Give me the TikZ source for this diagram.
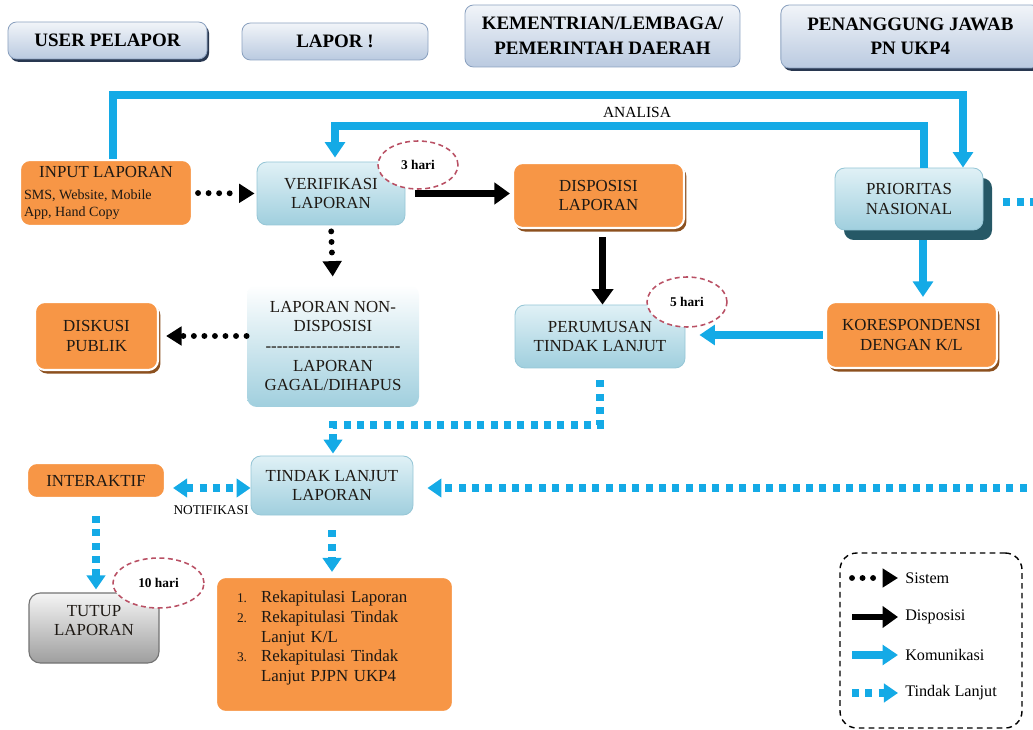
\documentclass[tikz,border=0pt]{standalone}
\usepackage{fontspec}
\setmainfont{Liberation Serif}
\usepackage{tikz}
\usetikzlibrary{arrows.meta,shadows,shapes.geometric}

\definecolor{lpOrange}{RGB}{247,150,70}
\definecolor{lpBrown}{RGB}{140,80,30}
\definecolor{lpBlue}{RGB}{20,170,230}
\definecolor{lpIce}{RGB}{224,241,246}
\definecolor{lpIceDark}{RGB}{160,207,222}
\definecolor{lpIceLine}{RGB}{150,198,214}
\definecolor{lpHead}{RGB}{186,202,224}
\definecolor{lpHeadLine}{RGB}{140,162,192}
\definecolor{lpNavy}{RGB}{40,55,80}
\definecolor{lpTeal}{RGB}{38,88,102}
\definecolor{lpRose}{RGB}{185,80,100}
\definecolor{lpInk}{RGB}{30,25,20}

\newcommand{\hy}{-\kern0pt}
\newcommand{\hyrow}{\hy\hy\hy\hy\hy\hy\hy\hy\hy\hy\hy\hy\hy\hy\hy\hy\hy\hy\hy\hy\hy\hy\hy\hy}
\newcommand{\numsz}{\fontsize{9.5}{11}\selectfont}

\tikzset{
  hdbox/.style={draw=lpHeadLine, line width=0.6pt, rounded corners=6pt,
    top color=white!80!lpHead, bottom color=lpHead, inner sep=0pt,
    align=center, font=\fontsize{13.5}{17.5}\selectfont\bfseries},
  hdshadow/.style={hdbox, drop shadow={shadow xshift=0.05cm,
    shadow yshift=-0.07cm, fill=lpNavy, opacity=1}},
  icebox/.style={draw=lpIceLine, line width=0.6pt, rounded corners=7pt,
    top color=lpIce, bottom color=lpIceDark, inner sep=0pt, align=center,
    font=\fontsize{12}{14}\selectfont, text=lpInk},
  orbox/.style={fill=lpOrange, draw=white, line width=1.5pt,
    rounded corners=7pt, inner sep=0pt, align=center,
    font=\fontsize{12}{14}\selectfont, text=lpInk},
  orshadow/.style={orbox, drop shadow={shadow xshift=0.06cm,
    shadow yshift=-0.09cm, fill=lpBrown, opacity=1}},
  graybox/.style={draw=black!55, line width=0.8pt, rounded corners=8pt,
    top color=white!96!black, bottom color=black!38, inner sep=0pt,
    align=center, font=\fontsize{12}{14}\selectfont, text=lpInk},
  harinote/.style={ellipse, draw=lpRose, line width=1.1pt,
    dash pattern=on 3.5pt off 2.5pt, fill=white, inner sep=0pt,
    font=\fontsize{9.5}{11}\selectfont\bfseries},
  sisarrow/.style={line width=4.2pt, line cap=round,
    dash pattern=on 0pt off 7.5pt, -{Triangle[width=13pt,length=11pt]}},
  disparrow/.style={line width=4.5pt, -{Triangle[width=15pt,length=11pt]}},
  komarrow/.style={lpBlue, line width=5pt, -{Triangle[width=14pt,length=11pt]}},
  tlline/.style={lpBlue, line width=5pt, dash pattern=on 5pt off 4.5pt},
  tlarrow/.style={tlline, -{Triangle[width=13pt,length=10pt]}},
  legtext/.style={anchor=west, inner sep=0pt, font=\fontsize{11.5}{13}\selectfont}
}

\begin{document}
\begin{tikzpicture}
\useasboundingbox (0,0) rectangle (25.825,-18.25);
\clip (0,0) rectangle (25.825,-18.25);

\node[hdshadow, minimum width=4.975cm, minimum height=0.925cm] (user) at (2.6875,-1.0125) {USER PELAPOR};
\node[hdbox, minimum width=4.65cm, minimum height=0.925cm] (lapor) at (8.375,-1.0375) {LAPOR !};
\node[hdbox, minimum width=6.875cm, minimum height=1.55cm] (kl) at (15.0625,-0.9) {KEMENTRIAN/LEMBAGA/\\PEMERINTAH DAERAH};
\node[hdshadow, minimum width=6.475cm, minimum height=1.575cm] (pj) at (22.76,-0.9125) {PENANGGUNG JAWAB\\PN UKP4};

\node[orbox, minimum width=4.3cm, minimum height=1.65cm] (input) at (2.65,-4.825) {\begin{tabular}{@{}l@{}}
\makebox[4.1cm]{INPUT LAPORAN}\\[2pt]
{\fontsize{10}{11.5}\selectfont SMS, Website, Mobile}\\[-2pt]
{\fontsize{10}{11.5}\selectfont App, Hand Copy}
\end{tabular}};
\node[icebox, minimum width=3.7cm, minimum height=1.575cm] (verif) at (8.275,-4.8375) {VERIFIKASI\\LAPORAN};
\node[orshadow, minimum width=4.275cm, minimum height=1.625cm] (dispo) at (14.9625,-4.8875) {DISPOSISI\\LAPORAN};
\node[icebox, minimum width=3.7cm, minimum height=1.55cm, drop shadow={shadow xshift=0.225cm, shadow yshift=-0.25cm, fill=lpTeal, opacity=1}] (prio) at (22.725,-4.975) {PRIORITAS\\NASIONAL};

\node[icebox, draw=none, top color=white, minimum width=4.3cm, minimum height=3.05cm] (nondispo) at (8.325,-8.65) {LAPORAN NON-\\DISPOSISI\\\hyrow\\LAPORAN\\GAGAL/DIHAPUS};
\node[orshadow, minimum width=3.075cm, minimum height=1.7cm] (diskusi) at (2.4125,-8.4) {DISKUSI\\PUBLIK};
\node[icebox, minimum width=4.25cm, minimum height=1.575cm] (perumusan) at (15.0,-8.4125) {PERUMUSAN\\TINDAK LANJUT};
\node[orshadow, minimum width=4.275cm, minimum height=1.65cm] (koresp) at (22.7875,-8.375) {KORESPONDENSI\\DENGAN K/L};

\node[icebox, minimum width=4.05cm, minimum height=1.475cm] (tindak) at (8.3,-12.1375) {TINDAK LANJUT\\LAPORAN};
\node[orbox, minimum width=3.45cm, minimum height=0.875cm] (interaktif) at (2.4,-12.0125) {INTERAKTIF};
\node[graybox, minimum width=3.25cm, minimum height=1.75cm] (tutup) at (2.35,-15.7) {\begin{tabular}{@{}c@{}}TUTUP\\LAPORAN\\[8.5pt]\end{tabular}};
\node[orbox, align=left, text width=4.875cm, inner xsep=0.525cm, minimum height=3.375cm] (rekap) at (8.3625,-16.1125) {\begin{tabular}{@{}r@{\hspace{10pt}}l@{}}
{\numsz 1.} & Rekapitulasi Laporan\\
{\numsz 2.} & Rekapitulasi Tindak\\
 & Lanjut K/L\\
{\numsz 3.} & Rekapitulasi Tindak\\
 & Lanjut PJPN UKP4\\[9pt]
\end{tabular}};

\node[harinote, minimum width=2.0cm, minimum height=1.2cm] (hari3) at (10.45,-4.125) {3 hari};
\node[harinote, minimum width=2.0cm, minimum height=1.25cm] (hari5) at (17.175,-7.55) {5 hari};
\node[harinote, minimum width=2.275cm, minimum height=1.25cm] (hari10) at (3.9625,-14.575) {10 hari};

\node[font=\fontsize{11}{13}\selectfont] (analisa) at (15.925,-2.8) {ANALISA};
\node[font=\fontsize{9.5}{11}\selectfont, inner sep=0pt] (notif) at (5.275,-12.75) {NOTIFIKASI};

\coordinate (k1) at (24.075,-2.375);
\coordinate (k2a) at (23.1,-3.15);
\coordinate (k2b) at (8.375,-3.15);
\coordinate (kb) at ([xshift=0.35cm]prio.south);
\coordinate (db) at ([xshift=0.1cm]dispo.south);
\coordinate (tbend) at (8.325,-10.625);
\coordinate (edgeA) at (26.0,-5.05);
\coordinate (edgeB) at (26.0,-12.2);

\draw[komarrow] ([xshift=0.175cm]input.north) |- (k1) -- (k1 |- prio.north);
\draw[komarrow, shorten >=0.1cm] (k2a |- prio.north) -- (k2a) -- (k2b) -- (k2b |- verif.north);
\draw[komarrow, shorten <=0.25cm, shorten >=0.1cm] (kb) -- (kb |- koresp.north);
\draw[komarrow, shorten <=0.05cm, shorten >=0.35cm] (koresp.west) -- (koresp.west -| perumusan.east);

\draw[sisarrow, shorten <=0.125cm, shorten >=0.05cm] (input.east) -- (verif.west);
\draw[sisarrow, shorten <=0.15cm, shorten >=0.2cm] (verif.south) -- (nondispo.north);
\draw[sisarrow] (nondispo.west |- diskusi.east) -- ([xshift=0.175cm]diskusi.east);

\draw[disparrow, shorten <=0.25cm, shorten >=0.05cm] (verif.east) -- (verif.east -| dispo.west);
\draw[disparrow, shorten <=0.2cm] (db) -- (db |- perumusan.north);

\draw[tlarrow, shorten <=0.3cm, shorten >=0.05cm] (perumusan.south) |- (tbend) -- (tbend |- tindak.north);
\draw[tlline, shorten <=0.5cm] (prio.east |- edgeA) -- (edgeA);
\draw[tlarrow, shorten >=0.35cm] (edgeB) -- (edgeB -| tindak.east);
\draw[tlline, {Triangle[width=13pt,length=10pt]}-{Triangle[width=13pt,length=10pt]}, shorten <=0.175cm] (interaktif.east |- edgeB) -- (tindak.west |- edgeB);
\draw[tlarrow, shorten <=0.425cm, shorten >=0.075cm] (interaktif.south) -- (interaktif.south |- tutup.north);
\draw[tlarrow, shorten <=0.375cm, shorten >=0.1cm] (tindak.south) -- (tindak.south |- rekap.north);

\node[draw, line width=1pt, dash pattern=on 4pt off 3pt, rounded corners=12pt, minimum width=4.55cm, minimum height=4.375cm] (legend) at (23.275,-16.0125) {};
\node[legtext] (lsis) at (22.625,-14.45) {Sistem};
\node[legtext] (ldisp) at (22.625,-15.425) {Disposisi};
\node[legtext] (lkom) at (22.625,-16.375) {Komunikasi};
\node[legtext] (ltl) at (22.625,-17.325) {Tindak Lanjut};
\coordinate (lsis0) at (21.3,-14.45);
\coordinate (ldisp0) at (21.3,-15.425);
\coordinate (lkom0) at (21.3,-16.375);
\coordinate (ltl0) at (21.3,-17.325);
\draw[sisarrow, shorten >=0.175cm] (lsis0) -- (lsis0 -| lsis.west);
\draw[disparrow, shorten >=0.175cm] (ldisp0) -- (ldisp0 -| ldisp.west);
\draw[komarrow, shorten >=0.175cm] (lkom0) -- (lkom0 -| lkom.west);
\draw[tlarrow, shorten >=0.175cm] (ltl0) -- (ltl0 -| ltl.west);
\end{tikzpicture}
\end{document}
